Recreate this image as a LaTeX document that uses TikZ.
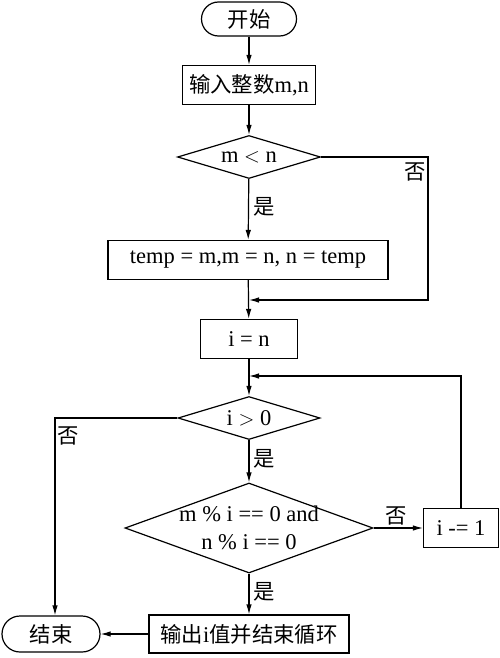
\documentclass[tikz,border=0pt]{standalone}
\usepackage{fontspec}
\setmainfont{Liberation Serif}
\newfontfamily\cjk[Scale=0.95]{Noto Sans CJK SC}
\usetikzlibrary{shapes.geometric,arrows.meta}
\begin{document}
\begin{tikzpicture}[x=1pt,y=-1pt,
  every node/.style={font=\fontsize{22.5}{28}\selectfont},
  arr/.style={line width=1.2pt,-{Latex[length=10pt,width=5.5pt]}},
  term/.style={draw,line width=1.2pt,rounded corners=17pt,minimum width=95pt,minimum height=34pt,inner sep=0pt},
  proc/.style={draw,line width=1.2pt,minimum height=39pt,inner sep=0pt},
  dec/.style={draw,line width=1.2pt,diamond,inner sep=0pt},
  lab/.style={inner sep=0pt}]
\useasboundingbox (0,0) rectangle (500,658);
\node[term] (start) at (249,19) {\cjk 开始};
\node[proc,minimum width=133pt] (input) at (249,85) {{\cjk 输入整数}m,n};
\node[dec,minimum width=143pt,minimum height=43pt,aspect=3.3] (d1) at (249,157) {m $<$ n};
\node[proc,minimum width=280pt] (swap) at (248,260) {temp = m,m = n, n = temp};
\node[proc,minimum width=97pt] (init) at (249,339) {i = n};
\node[dec,minimum width=142pt,minimum height=43pt,aspect=3.3] (d2) at (249,418) {i $>$ 0};
\node[dec,minimum width=248pt,minimum height=90pt,aspect=2.76,inner sep=-8pt,align=center] (d3) at (249,528) {m \% i == 0 and\\n \% i == 0};
\node[proc,minimum width=75pt] (dec1) at (461,528) {i -= 1};
\node[proc,minimum width=200pt,minimum height=38pt] (out) at (249,634) {{\cjk 输出}i{\cjk 值并结束循环}};
\node[term,minimum width=98pt,minimum height=36pt,rounded corners=18pt] (end) at (51,634) {\cjk 结束};
\coordinate (m1) at (249,300);
\coordinate (m2) at (249,376);
\draw[arr] (start) -- (input);
\draw[arr] (input) -- (d1);
\draw[arr] (d1) -- node[lab,right=4pt,pos=0.45]{\cjk 是} (swap);
\draw[arr] (d1.east) -- (428,157) -- (428,300) -- (m1);
\node[lab] (no1) at (415,172) {\cjk 否};
\draw[arr] (swap) -- (init);
\draw[arr] (init) -- (d2);
\draw[arr] (d2) -- node[lab,right=4pt,pos=0.45]{\cjk 是} (d3);
\draw[arr] (d3) -- node[lab,right=4pt,pos=0.45]{\cjk 是} (out);
\draw[arr] (d3.east) -- node[lab,above=2pt,pos=0.45]{\cjk 否} (dec1.west);
\draw[arr] (dec1.north) -- (461,376) -- (m2);
\draw[arr] (d2.west) -- (55,418) -- (end.north -| 55,0);
\node[lab] (no2) at (68,436) {\cjk 否};
\draw[arr] (out) -- (end);
\end{tikzpicture}
\end{document}
